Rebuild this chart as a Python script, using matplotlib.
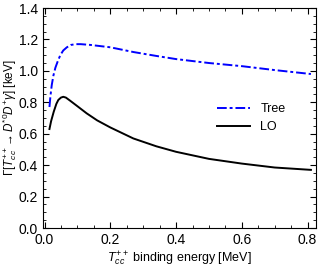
import matplotlib
matplotlib.use("Agg")
from matplotlib import pyplot as plt
from matplotlib.ticker import MultipleLocator

plt.rcParams['font.family'] = ['Liberation Sans', 'DejaVu Sans']
plt.rcParams['mathtext.fontset'] = 'custom'
plt.rcParams['mathtext.rm'] = 'Liberation Sans'
plt.rcParams['mathtext.it'] = 'Liberation Sans:italic'

# binding energy [MeV]
x_tree = [0.015, 0.018, 0.022, 0.027, 0.033, 0.04, 0.048, 0.057, 0.068, 0.08, 0.095, 0.11, 0.14, 0.2, 0.27, 0.34, 0.4, 0.5, 0.6, 0.7, 0.81]
tree = [0.77, 0.84, 0.91, 0.97, 1.02, 1.06, 1.10, 1.13, 1.15, 1.165, 1.17, 1.17, 1.165, 1.15, 1.12, 1.095, 1.075, 1.05, 1.03, 1.005, 0.98]

x_lo = [0.015, 0.02, 0.028, 0.036, 0.042, 0.05, 0.057, 0.065, 0.078, 0.1, 0.128, 0.16, 0.2, 0.27, 0.34, 0.4, 0.5, 0.6, 0.7, 0.81]
lo = [0.63, 0.68, 0.74, 0.79, 0.815, 0.83, 0.835, 0.83, 0.81, 0.775, 0.73, 0.685, 0.64, 0.57, 0.52, 0.485, 0.44, 0.41, 0.385, 0.37]

fig = plt.figure(figsize=(3.2, 2.67), dpi=100)
ax = fig.add_axes([0.134, 0.146, 0.853, 0.824])

ax.plot(x_tree, tree, color='blue', lw=1.4, dashes=(5, 1.5, 1.5, 1.5), label='Tree')
ax.plot(x_lo, lo, color='black', lw=1.4, label='LO')

ax.set_xlim(-0.005, 0.825)
ax.set_ylim(0, 1.4)
ax.xaxis.set_major_locator(MultipleLocator(0.2))
ax.xaxis.set_minor_locator(MultipleLocator(0.05))
ax.yaxis.set_major_locator(MultipleLocator(0.2))
ax.yaxis.set_minor_locator(MultipleLocator(0.05))
ax.tick_params(which='both', direction='in', top=True, right=True, labelsize=10)
ax.tick_params(which='major', length=4)
ax.tick_params(which='minor', length=2)

ax.set_xlabel(r'$T_{cc}^{++}$ binding energy [MeV]', fontsize=9, labelpad=2)
ax.set_ylabel(r'$\Gamma[T_{cc}^{++}\!\rightarrow D^{*0}D^{+}\gamma]$ [keV]', fontsize=8.5, labelpad=0)

ax.legend(loc='center right', bbox_to_anchor=(0.93, 0.5), frameon=False, fontsize=9, handlelength=2.7)

fig.savefig('out.png', dpi=100)
